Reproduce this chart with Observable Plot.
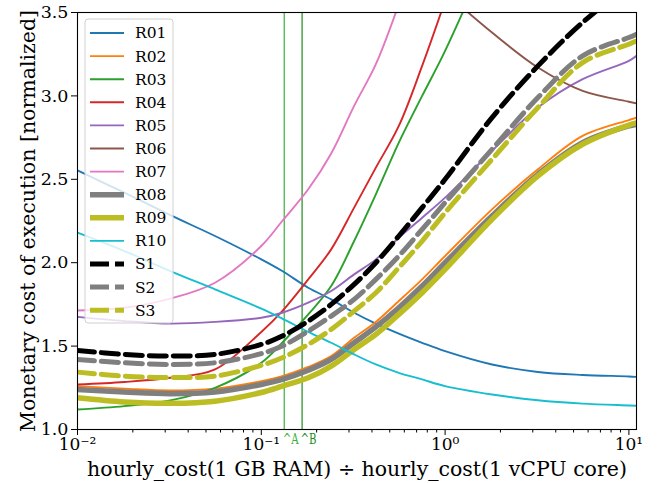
<!DOCTYPE html>
<html><head><meta charset="utf-8">
<script src="https://cdn.jsdelivr.net/npm/d3@7"></script>
<script src="https://cdn.jsdelivr.net/npm/@observablehq/plot@0.6"></script>
<style>
html,body{margin:0;padding:0;background:#fff;}
#chart{position:relative;width:657px;height:483px;}
</style></head>
<body><div id="chart"></div>
<script>
const xs = [0.01, 0.018, 0.032, 0.056, 0.1, 0.13, 0.18, 0.24, 0.32, 0.42, 0.56, 0.75, 1, 1.8, 3.2, 5.6, 10, 11];
const R01 = [2.553, 2.42, 2.285, 2.16, 2.02, 1.95, 1.85, 1.78, 1.70, 1.635, 1.575, 1.52, 1.47, 1.39, 1.345, 1.327, 1.318, 1.315];
const R02 = [1.26, 1.245, 1.234, 1.245, 1.29, 1.32, 1.375, 1.44, 1.55, 1.645, 1.77, 1.90, 2.04, 2.32, 2.56, 2.76, 2.855, 2.87];
const R03 = [1.12, 1.14, 1.175, 1.25, 1.40, 1.52, 1.69, 1.86, 2.13, 2.41, 2.72, 3.00, 3.27, 3.9, null, null, null, null];
const R04 = [1.27, 1.285, 1.31, 1.36, 1.585, 1.71, 1.90, 2.08, 2.33, 2.57, 2.82, 3.18, 3.57, null, null, null, null, null];
const R05 = [1.675, 1.65, 1.635, 1.645, 1.67, 1.70, 1.76, 1.83, 1.93, 2.02, 2.15, 2.27, 2.39, 2.67, 2.93, 3.10, 3.21, 3.24];
const R06 = [null, null, null, null, null, null, null, null, null, null, null, null, 3.62, 3.38, 3.17, 3.03, 2.965, 2.955];
const R07 = [1.713, 1.73, 1.785, 1.88, 2.10, 2.25, 2.44, 2.655, 2.94, 3.19, 3.55, null, null, null, null, null, null, null];
const R08 = [1.24, 1.225, 1.215, 1.225, 1.27, 1.30, 1.355, 1.42, 1.52, 1.615, 1.73, 1.86, 2.00, 2.28, 2.53, 2.72, 2.82, 2.83];
const R09 = [1.19, 1.165, 1.157, 1.17, 1.222, 1.26, 1.31, 1.38, 1.48, 1.57, 1.69, 1.82, 1.96, 2.26, 2.52, 2.71, 2.825, 2.838];
const R10 = [2.18, 2.07, 1.95, 1.84, 1.725, 1.665, 1.585, 1.52, 1.45, 1.39, 1.34, 1.30, 1.26, 1.21, 1.175, 1.155, 1.144, 1.142];
const S1 = [1.474, 1.45, 1.44, 1.45, 1.51, 1.56, 1.65, 1.75, 1.87, 2.0, 2.16, 2.33, 2.50, 2.87, 3.18, 3.44, 3.66, 3.69];
const S2 = [1.42, 1.40, 1.39, 1.40, 1.455, 1.50, 1.59, 1.68, 1.78, 1.90, 2.04, 2.20, 2.36, 2.68, 2.99, 3.24, 3.35, 3.37];
const S3 = [1.344, 1.32, 1.312, 1.32, 1.385, 1.43, 1.51, 1.60, 1.71, 1.82, 1.97, 2.13, 2.30, 2.62, 2.93, 3.20, 3.31, 3.33];

const seriesNames = ["R01","R02","R03","R04","R05","R06","R07","R08","R09","R10","S1","S2","S3"];
const seriesValues = [R01,R02,R03,R04,R05,R06,R07,R08,R09,R10,S1,S2,S3];
const seriesColors = ["#1f77b4","#ff7f0e","#2ca02c","#d62728","#9467bd","#8c564b","#e377c2","#7f7f7f","#bcbd22","#17becf","#000000","#7f7f7f","#bcbd22"];
const seriesWidths = [1.9,1.9,1.9,1.9,1.9,1.9,1.9,5.5,5.5,1.9,5,5,5];
const seriesDash = [null,null,null,null,null,null,null,null,null,null,"17,7","17,7","17,7"];

const markerX = [0.1333, 0.1667];
const markerLabels = ["^A", "^B"];
const markerColors = ["#3cb03c", "#1e8c1e"];

const xMajor = [0.01, 0.1, 1, 10];
const xMajorLabels = ["10\u207B\u00B2", "10\u207B\u00B9", "10\u2070", "10\u00B9"];
const xMinor = [];
for (const d of [0.01, 0.1, 1]) for (let k = 2; k <= 9; k++) { const v = +(d*k).toPrecision(3); if (v <= 11) xMinor.push(v); }
const yTicks = [1.0, 1.5, 2.0, 2.5, 3.0, 3.5];

const xLabel = "hourly_cost(1 GB RAM) \u00F7 hourly_cost(1 vCPU core)";
const yLabel = "Monetary cost of execution [normalized]";

const FONT = "DejaVu Serif";

const lineMarks = seriesNames.map((name, i) => {
  const data = [];
  xs.forEach((x, j) => { const v = seriesValues[i][j]; if (v != null) data.push({x, y: v}); });
  return Plot.line(data, {
    x: "x", y: "y", stroke: seriesColors[i], strokeWidth: seriesWidths[i],
    strokeDasharray: seriesDash[i] || undefined, curve: "catmull-rom", clip: true
  });
});

const markerData = markerX.map((x, i) => ({x, t: markerLabels[i], c: markerColors[i]}));

const plot = Plot.plot({
  width: 657, height: 483,
  marginLeft: 77, marginRight: 21, marginTop: 12, marginBottom: 54,
  style: {fontFamily: FONT, fontSize: "17px", color: "#000", background: "#fff"},
  x: {type: "log", domain: [0.01, 11]},
  y: {domain: [1.0, 3.5]},
  marks: [
    Plot.ruleX(markerData, {x: "x", stroke: "c", strokeWidth: 1.2}),
    ...lineMarks,
    Plot.axisX({ticks: xMinor, tickSize: 3.5, tickFormat: () => "", label: null}),
    Plot.axisX({ticks: xMajor, tickSize: 6, tickPadding: 2, tickFormat: (d) => xMajorLabels[xMajor.indexOf(d)], label: null, fontSize: 17}),
    Plot.axisY({ticks: yTicks, tickSize: 6, tickPadding: 3, tickFormat: d3.format(".1f"), label: null, fontSize: 17.5}),
    Plot.frame({stroke: "#000", strokeWidth: 1.1}),
    Plot.text(markerData, {x: "x", text: "t", fill: "c", frameAnchor: "bottom", lineAnchor: "middle", dy: 10, dx: -1.5, textAnchor: "start", fontSize: 15}),
    Plot.text([xLabel], {frameAnchor: "bottom", lineAnchor: "middle", dy: 40, fontSize: 20.5, textAnchor: "middle"}),
    Plot.text([yLabel], {frameAnchor: "left", lineAnchor: "middle", dx: -49, rotate: -90, fontSize: 20.5, textAnchor: "middle"})
  ]
});

document.getElementById("chart").appendChild(plot);

const svg = d3.select(plot);
// compress the marker labels horizontally so they fit between the two rules, as in the reference
svg.selectAll("text").filter(function () { return markerLabels.includes(this.textContent); })
  .attr("textLength", 16).attr("lengthAdjust", "spacingAndGlyphs");

// legend (upper-left, inside the axes)
const lg = svg.append("g").attr("font-family", FONT).attr("font-size", 15.5).attr("text-anchor", "start");
const lx = 85, ly = 19, lw = 88, rowH = 23.1;
lg.append("rect").attr("x", lx).attr("y", ly).attr("width", lw).attr("height", 304)
  .attr("rx", 3).attr("fill", "#fff").attr("fill-opacity", 0.8).attr("stroke", "#d0d0d0");
seriesNames.forEach((name, i) => {
  const cy = 33 + i * rowH;
  lg.append("line").attr("x1", 90).attr("x2", 124).attr("y1", cy).attr("y2", cy)
    .attr("stroke", seriesColors[i]).attr("stroke-width", seriesWidths[i])
    .attr("stroke-dasharray", seriesDash[i] ? "19,6" : null);
  lg.append("text").attr("x", 135).attr("y", cy).attr("dy", "0.35em").attr("fill", "#000").attr("text-anchor", "start").text(name);
});
</script>
</body></html>
